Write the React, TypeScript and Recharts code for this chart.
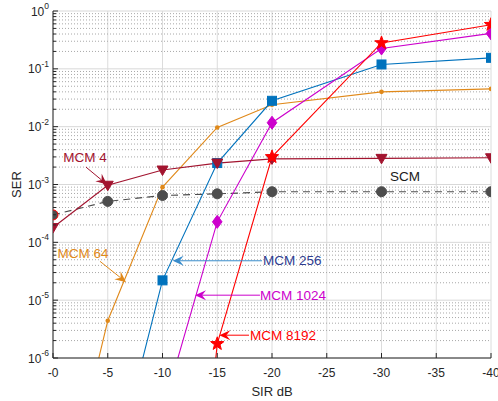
import React from "react";
import { LineChart, Line, XAxis, YAxis, CartesianGrid, ReferenceLine, ReferenceDot } from "recharts";

// SIR points (dB) where the curves were sampled
const SIR = [0, -5, -10, -15, -20, -30, -40];
const X_TICKS = [0, -5, -10, -15, -20, -25, -30, -35, -40];
const DECADES = [1e-6, 1e-5, 1e-4, 1e-3, 1e-2, 1e-1, 1];
const MINOR_STEPS = [2, 3, 4, 5, 6, 7, 8, 9];

// SER per curve, null = not simulated
const SCM = [2.98e-4, 5.1e-4, 6.45e-4, 6.9e-4, 7.5e-4, 7.5e-4, 7.5e-4];
const MCM4 = [1.8e-4, 9.7e-4, 1.78e-3, 2.35e-3, 2.77e-3, 2.83e-3, 2.9e-3];
const MCM64 = [5e-10, 4.4e-6, 9.0e-4, 9.7e-3, 2.4e-2, 4.0e-2, 4.5e-2];
const MCM256 = [null, 4e-9, 2.2e-5, 2.35e-3, 2.8e-2, 0.119, 0.155];
const MCM1024 = [null, null, 1.2e-7, 2.26e-4, 1.17e-2, 0.225, 0.41];
const MCM8192 = [null, null, 1e-15, 1.76e-6, 3.0e-3, 0.28, 0.58];

const AXIS = "#262626";
const C_SCM = "#4d4d4d";
const C_4 = "#a2142f";
const C_64 = "#e0891a";
const C_256 = "#0072bd";
const C_1024 = "#cc00cc";
const C_8192 = "#ff0000";

const inRange = (v: number | null) => (v != null && v >= 1e-6 && v <= 1 ? v : null);

const data = SIR.map((x, i) => ({
  x,
  scm: SCM[i],
  m4: MCM4[i],
  m64: MCM64[i],
  m256: MCM256[i],
  m1024: MCM1024[i],
  m8192: MCM8192[i],
  d_scm: inRange(SCM[i]),
  d_m4: inRange(MCM4[i]),
  d_m64: inRange(MCM64[i]),
  d_m256: inRange(MCM256[i]),
  d_m1024: inRange(MCM1024[i]),
  d_m8192: inRange(MCM8192[i]),
}));

const MINOR = DECADES.slice(0, -1).flatMap((d) => MINOR_STEPS.map((s) => d * s));
const Y_TICKS = [...DECADES, ...MINOR].sort((a, b) => a - b);

const ANNOTATIONS = [
  { label: "MCM 4", from: [-3.01, 2.0e-3], to: [-4.93, 1.0e-3], color: C_4, text: C_4, anchor: "middle", dx: -1, dy: -5 },
  { label: "MCM 64", from: [-4.29, 4.7e-5], to: [-6.67, 2.05e-5], color: C_64, text: C_64, anchor: "middle", dx: -17, dy: -3.5 },
  { label: "MCM 256", from: [-19.09, 4.8e-5], to: [-10.93, 4.8e-5], color: "#3a8dcc", text: "#2e3b8f", anchor: "start", dx: 1, dy: 4.7 },
  { label: "MCM 1024", from: [-18.9, 1.22e-5], to: [-12.97, 1.22e-5], color: C_1024, text: C_1024, anchor: "start", dx: 0, dy: 4.5 },
  { label: "MCM 8192", from: [-17.9, 2.48e-6], to: [-15.19, 2.48e-6], color: C_8192, text: C_8192, anchor: "start", dx: 1, dy: 4.5 },
];

const isMajor = (v: number) => Math.abs(Math.log10(v) - Math.round(Math.log10(v))) < 1e-6;

const LeftTick = (p: any) => {
  const { x, y, payload } = p;
  const v = payload.value;
  const major = isMajor(v);
  return (
    <g>
      <line x1={x} y1={y} x2={x + (major ? 5 : 3)} y2={y} stroke={AXIS} />
      {major && (
        <text x={x - 4} y={y} dy={4.5} textAnchor="end" fontSize={12} fill={AXIS}>
          10<tspan dy={-6.5} fontSize={8.5}>{Math.round(Math.log10(v))}</tspan>
        </text>
      )}
    </g>
  );
};

const RightTick = (p: any) => {
  const { x, y, payload } = p;
  const major = isMajor(payload.value);
  return <line x1={x} y1={y} x2={x - (major ? 5 : 3)} y2={y} stroke={AXIS} />;
};

const BottomTick = (p: any) => {
  const { x, y, payload } = p;
  return (
    <g>
      <line x1={x} y1={y} x2={x} y2={y - 5} stroke={AXIS} />
      <text x={x} y={y + 19} textAnchor="middle" fontSize={12} fill={AXIS}>
        {payload.value === 0 ? "-0" : String(payload.value)}
      </text>
    </g>
  );
};

const TopTick = (p: any) => {
  const { x, y } = p;
  return <line x1={x} y1={y} x2={x} y2={y + 5} stroke={AXIS} />;
};

// horizontal grid line drawn through the reference line's own coordinates
const gridShape = (color: string, dash?: string) => (p: any) => (
  <line x1={p.x1} y1={p.y1} x2={p.x2} y2={p.y2} stroke={color} strokeWidth={1} strokeDasharray={dash} />
);

// marker shapes
const triDown = (color: string) => (p: any) => {
  const { cx, cy, index } = p;
  if (cx == null || cy == null) return <g key={index} />;
  return <polygon key={index} points={`${cx - 5.5},${cy - 4} ${cx + 5.5},${cy - 4} ${cx},${cy + 5.5}`} fill={color} stroke={color} />;
};
const square = (color: string) => (p: any) => {
  const { cx, cy, index } = p;
  if (cx == null || cy == null) return <g key={index} />;
  return <rect key={index} x={cx - 4.5} y={cy - 4.5} width={9} height={9} fill={color} stroke={color} />;
};
const diamond = (color: string) => (p: any) => {
  const { cx, cy, index } = p;
  if (cx == null || cy == null) return <g key={index} />;
  return <polygon key={index} points={`${cx},${cy - 6.5} ${cx + 4.8},${cy} ${cx},${cy + 6.5} ${cx - 4.8},${cy}`} fill={color} stroke={color} />;
};
const star = (color: string) => (p: any) => {
  const { cx, cy, index } = p;
  if (cx == null || cy == null) return <g key={index} />;
  const pts = [];
  for (let k = 0; k < 10; k++) {
    const r = k % 2 === 0 ? 7 : 2.9;
    const a = -Math.PI / 2 + (k * Math.PI) / 5;
    pts.push(`${cx + r * Math.cos(a)},${cy + r * Math.sin(a)}`);
  }
  return <polygon key={index} points={pts.join(" ")} fill={color} stroke={color} />;
};
const smallDot = (color: string) => (p: any) => {
  const { cx, cy, index } = p;
  if (cx == null || cy == null) return <g key={index} />;
  return <circle key={index} cx={cx} cy={cy} r={2.3} fill={color} />;
};
const scmDot = (p: any) => {
  const { cx, cy, index } = p;
  if (cx == null || cy == null) return <g key={index} />;
  return <circle key={index} cx={cx} cy={cy} r={5} fill={C_SCM} stroke={index === 0 ? "#ff0000" : C_SCM} strokeWidth={1} />;
};

const arrowShape = (a: any) => (p: any) => {
  const { x1, y1, x2, y2 } = p;
  const len = Math.hypot(x2 - x1, y2 - y1) || 1;
  const ux = (x2 - x1) / len;
  const uy = (y2 - y1) / len;
  const nx = -uy;
  const ny = ux;
  const L = 11;
  const W = 5;
  const N = 7;
  const pts = [
    [x2, y2],
    [x2 - L * ux + W * nx, y2 - L * uy + W * ny],
    [x2 - N * ux, y2 - N * uy],
    [x2 - L * ux - W * nx, y2 - L * uy - W * ny],
  ];
  return (
    <g>
      <line x1={x1} y1={y1} x2={x2 - N * ux} y2={y2 - N * uy} stroke={a.color} strokeWidth={1} />
      <polygon points={pts.map((q) => q.join(",")).join(" ")} fill={a.color} />
      <text x={x1 + a.dx} y={y1 + a.dy} textAnchor={a.anchor} fill={a.text} fontSize={13.5}>
        {a.label}
      </text>
    </g>
  );
};

export default function App() {
  return (
    <div style={{ position: "absolute", left: 0, top: 0 }}>
      <LineChart
        width={498}
        height={401}
        data={data}
        margin={{ top: 11, right: 7, bottom: 18, left: 0 }}
        style={{ fontFamily: "'Liberation Sans', Arial, sans-serif" }}
      >
        <CartesianGrid horizontal={false} stroke="#dcdcdc" />
        {MINOR.map((v) => (
          <ReferenceLine key={`mn${v}`} y={v} shape={gridShape("#a8a8a8", "1 2")} />
        ))}
        {DECADES.map((v) => (
          <ReferenceLine key={`mj${v}`} y={v} shape={gridShape("#d8d8d8")} />
        ))}
        <XAxis
          dataKey="x"
          type="number"
          domain={[-40, 0]}
          reversed
          allowDataOverflow
          ticks={X_TICKS}
          interval={0}
          height={25}
          tickSize={0}
          tickMargin={0}
          tick={BottomTick}
          axisLine={{ stroke: AXIS }}
          label={{
            content: (lp: any) => (
              <text x={lp.viewBox.x + lp.viewBox.width / 2} y={396} textAnchor="middle" fontSize={13} fill={AXIS}>
                SIR dB
              </text>
            ),
          }}
        />
        <XAxis
          xAxisId="top"
          orientation="top"
          dataKey="x"
          type="number"
          domain={[-40, 0]}
          reversed
          allowDataOverflow
          ticks={X_TICKS}
          interval={0}
          height={0}
          tickSize={0}
          tickMargin={0}
          tick={TopTick}
          axisLine={{ stroke: AXIS }}
        />
        <YAxis
          scale="log"
          type="number"
          domain={[1e-6, 1]}
          allowDataOverflow
          ticks={Y_TICKS}
          interval={0}
          width={53}
          tickSize={0}
          tickMargin={0}
          tick={LeftTick}
          axisLine={{ stroke: AXIS }}
          label={{
            content: (lp: any) => {
              const cy = lp.viewBox.y + lp.viewBox.height / 2;
              return (
                <text x={21} y={cy} transform={`rotate(-90 21 ${cy})`} textAnchor="middle" fontSize={13} fill={AXIS}>
                  SER
                </text>
              );
            },
          }}
        />
        <YAxis
          yAxisId="right"
          orientation="right"
          scale="log"
          type="number"
          domain={[1e-6, 1]}
          ticks={Y_TICKS}
          interval={0}
          width={0}
          tickSize={0}
          tickMargin={0}
          tick={RightTick}
          axisLine={{ stroke: AXIS }}
        />

        <Line dataKey="scm" stroke={C_SCM} strokeWidth={1.2} strokeDasharray="7 5" dot={false} isAnimationActive={false} />
        <Line dataKey="m64" stroke={C_64} strokeWidth={1.1} dot={false} isAnimationActive={false} />
        <Line dataKey="m256" stroke={C_256} strokeWidth={1.1} dot={false} isAnimationActive={false} />
        <Line dataKey="m1024" stroke={C_1024} strokeWidth={1.1} dot={false} isAnimationActive={false} />
        <Line dataKey="m8192" stroke={C_8192} strokeWidth={1.1} dot={false} isAnimationActive={false} />
        <Line dataKey="m4" stroke={C_4} strokeWidth={1.2} dot={false} isAnimationActive={false} />

        <Line yAxisId="right" dataKey="d_scm" stroke="none" dot={scmDot} isAnimationActive={false} />
        <Line yAxisId="right" dataKey="d_m64" stroke="none" dot={smallDot(C_64)} isAnimationActive={false} />
        <Line yAxisId="right" dataKey="d_m256" stroke="none" dot={square(C_256)} isAnimationActive={false} />
        <Line yAxisId="right" dataKey="d_m1024" stroke="none" dot={diamond(C_1024)} isAnimationActive={false} />
        <Line yAxisId="right" dataKey="d_m4" stroke="none" dot={triDown(C_4)} isAnimationActive={false} />
        <Line yAxisId="right" dataKey="d_m8192" stroke="none" dot={star(C_8192)} isAnimationActive={false} />

        {ANNOTATIONS.map((a) => (
          <ReferenceLine
            key={a.label}
            segment={[
              { x: a.from[0], y: a.from[1] },
              { x: a.to[0], y: a.to[1] },
            ]}
            shape={arrowShape(a)}
          />
        ))}
        <ReferenceDot
          x={-32.15}
          y={1.35e-3}
          r={0}
          shape={(p: any) => (
            <text x={p.cx} y={p.cy} dy={4.5} textAnchor="middle" fontSize={13.5} fill="#1a1a1a">
              SCM
            </text>
          )}
        />
      </LineChart>
    </div>
  );
}
